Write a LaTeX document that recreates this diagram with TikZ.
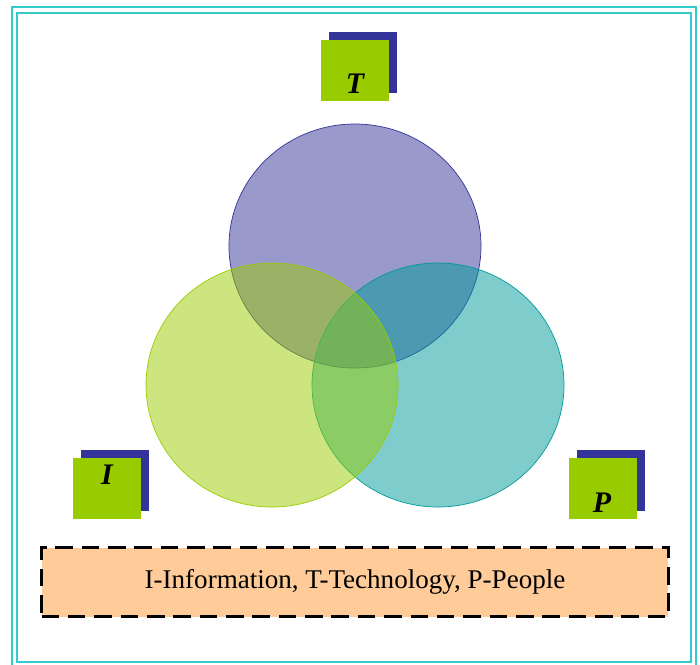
\documentclass[tikz,border=0pt]{standalone}
\usepackage{fontspec}
\setmainfont{Liberation Serif}
\definecolor{framecyan}{RGB}{51, 204, 204}
\definecolor{techblue}{RGB}{51, 51, 153}
\definecolor{infogreen}{RGB}{153, 204, 0}
\definecolor{peopleteal}{RGB}{0, 153, 153}
\definecolor{notepeach}{RGB}{255, 204, 153}
\usetikzlibrary{positioning}

\begin{document}
\begin{tikzpicture}[x=0.02cm, y=-0.02cm,
    keybox/.style={fill=infogreen, minimum width=1.36cm, minimum height=1.22cm, inner sep=0pt},
    keyshadow/.style={fill=techblue, minimum width=1.36cm, minimum height=1.22cm, inner sep=0pt},
    keyletter/.style={font=\fontsize{17}{20}\selectfont\bfseries\itshape, inner sep=0pt}]
  \useasboundingbox (0,0) rectangle (700,664);

  % Double frame
  \draw[framecyan, line width=1.2pt] (12,7) rectangle (696,668);
  \draw[framecyan, line width=1.2pt] (17,13) rectangle (691,662);

  % Three overlapping sets
  \draw[techblue, fill=techblue, fill opacity=0.5] (355,246) ellipse [x radius=126, y radius=122];
  \draw[peopleteal, fill=peopleteal, fill opacity=0.5] (438,385) ellipse [x radius=126, y radius=122];
  \draw[infogreen, fill=infogreen, fill opacity=0.5] (272,385) ellipse [x radius=126, y radius=122];

  % Keys
  \node[keyshadow] (tshadow) at (363,62.5) {};
  \node[keybox] (tkey) at (355,70.5) {};
  \node[keyletter] (tletter) at (355,83.5) {T};

  \node[keyshadow] (ishadow) at (115,480.5) {};
  \node[keybox] (ikey) at (107,488.5) {};
  \node[keyletter] (iletter) at (107,475) {I};

  \node[keyshadow] (pshadow) at (611,480.5) {};
  \node[keybox] (pkey) at (603,488.5) {};
  \node[keyletter] (pletter) at (602,503) {P};

  % Legend
  \node[draw=black, line width=1.7pt, dash pattern=on 10pt off 5pt, fill=notepeach,
        minimum width=12.54cm, minimum height=1.38cm, font=\fontsize{15.4}{18}\selectfont] (legend) at (355,582)
    {I-Information, T-Technology, P-People};
\end{tikzpicture}
\end{document}
